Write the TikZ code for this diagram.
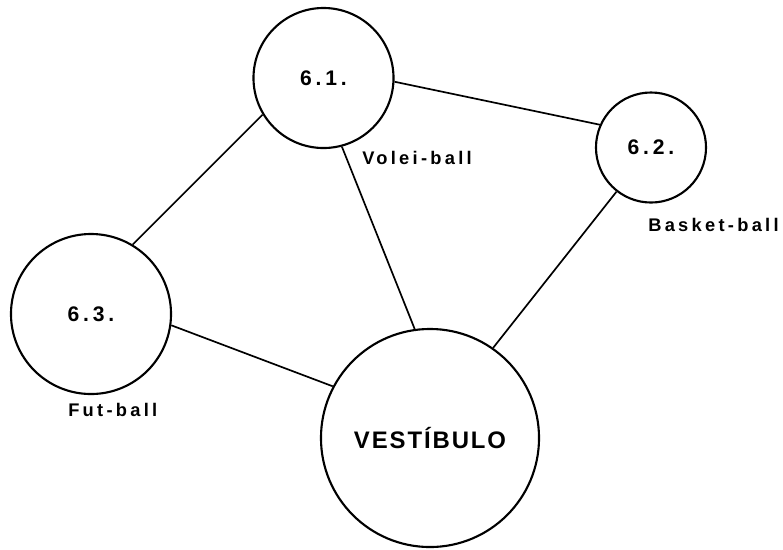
\documentclass[tikz,border=0pt]{standalone}
\usepackage{fontspec}
\newfontfamily\letterfont[LetterSpace=18]{Liberation Sans}
\newfontfamily\titlefont[LetterSpace=8]{Liberation Sans}

\tikzset{
  room/.style={circle,draw,line width=1.5pt,inner sep=0pt,
    font={\letterfont\bfseries\fontsize{15}{17}\selectfont}},
  sport/.style={anchor=west,inner sep=0pt,
    font={\letterfont\bfseries\fontsize{13}{15}\selectfont}},
  link/.style={line width=1.2pt}
}

\begin{document}
\begin{tikzpicture}[x=0.025cm,y=-0.025cm]
  \useasboundingbox (0,0) rectangle (783,549);
  \node[room,minimum size=3.5cm]  (volei)  at (323.5,78) {6.1.};
  \node[room,minimum size=2.75cm] (basket) at (651,147.5) {6.2.};
  \node[room,minimum size=4cm]    (fut)    at (91,314) {6.3.};
  \node[room,minimum size=5.45cm,font={\titlefont\bfseries\fontsize{17}{19}\selectfont}]
    (vest) at (430,438) {VESTÍBULO};
  \draw[link] (volei.-3) -- (basket.156);
  \draw[link] (volei.211) -- (fut.59);
  \draw[link] (volei.-75) -- (vest.98);
  \draw[link] (basket.232) -- (vest.55);
  \draw[link] (fut.-8) -- (vest.152);
  \node[sport] (voleilbl)  at (362,158) {Volei-ball};
  \node[sport] (basketlbl) at (648,225) {Basket-ball};
  \node[sport] (futlbl)    at (68,410)  {Fut-ball};
\end{tikzpicture}
\end{document}
